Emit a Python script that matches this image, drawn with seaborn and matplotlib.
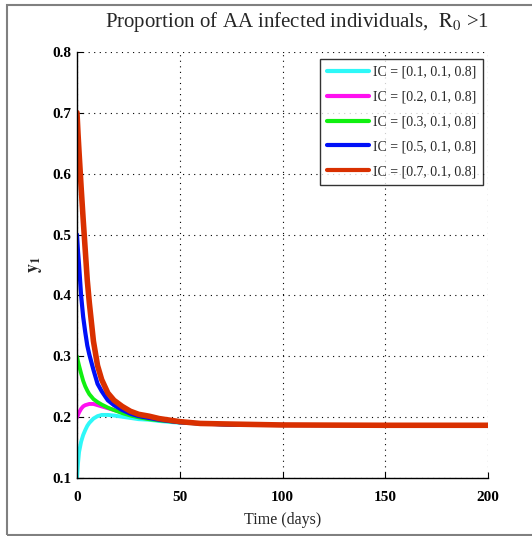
import pandas as pd
import matplotlib
matplotlib.use('Agg')
from matplotlib import pyplot as plt
from matplotlib.patches import Rectangle
import seaborn as sns

# Values
time = [0, 0.5, 1, 2, 3, 4, 5, 6, 8, 10, 12, 15, 18, 22, 26, 30, 35, 40, 50, 60, 75, 100, 150, 200]

y_01 = [0.100, 0.125, 0.143, 0.160, 0.171, 0.179, 0.186, 0.191, 0.198, 0.202, 0.204, 0.204,
        0.203, 0.201, 0.199, 0.197, 0.196, 0.194, 0.191, 0.190, 0.188, 0.1875, 0.187, 0.187]
y_02 = [0.200, 0.204, 0.208, 0.214, 0.218, 0.220, 0.221, 0.222, 0.222, 0.220, 0.218, 0.215,
        0.212, 0.208, 0.204, 0.201, 0.198, 0.196, 0.192, 0.190, 0.188, 0.1875, 0.187, 0.187]
y_03 = [0.300, 0.292, 0.285, 0.272, 0.260, 0.251, 0.244, 0.238, 0.230, 0.225, 0.221, 0.216,
        0.212, 0.207, 0.203, 0.200, 0.197, 0.195, 0.192, 0.190, 0.188, 0.1875, 0.187, 0.187]
y_05 = [0.500, 0.472, 0.450, 0.400, 0.365, 0.340, 0.318, 0.303, 0.278, 0.255, 0.243, 0.228,
        0.220, 0.212, 0.206, 0.202, 0.199, 0.196, 0.192, 0.190, 0.188, 0.1875, 0.187, 0.187]
y_07 = [0.700, 0.665, 0.635, 0.578, 0.525, 0.475, 0.425, 0.388, 0.325, 0.285, 0.262, 0.240,
        0.228, 0.218, 0.210, 0.205, 0.202, 0.198, 0.193, 0.190, 0.189, 0.1875, 0.187, 0.187]

labels = ['IC = [0.1, 0.1, 0.8]', 'IC = [0.2, 0.1, 0.8]', 'IC = [0.3, 0.1, 0.8]',
          'IC = [0.5, 0.1, 0.8]', 'IC = [0.7, 0.1, 0.8]']
series = [y_01, y_02, y_03, y_05, y_07]
colors = ['#2EF8F8', '#FF10F0', '#10F010', '#0010F8', '#D93000']
widths = [2.8, 2.8, 2.8, 3.0, 4.0]

sns.set_style('white')
plt.rcParams['font.family'] = ['Liberation Serif', 'DejaVu Serif']
plt.rcParams['mathtext.fontset'] = 'stix'

fig = plt.figure(figsize=(5.32, 5.36), dpi=100)
ax = fig.add_axes([77 / 532, 1 - 478.3 / 536, 411 / 532, 426.6 / 536])

for ys, lab, c, lw in zip(series, labels, colors, widths):
    df = pd.DataFrame({'t': time, 'y': ys})
    sns.lineplot(data=df, x='t', y='y', color=c, linewidth=lw, label=lab, ax=ax)

ax.set_xlim(0, 200)
ax.set_ylim(0.1, 0.8)
ax.set_xticks([0, 50, 100, 150, 200])
ax.set_yticks([0.1, 0.2, 0.3, 0.4, 0.5, 0.6, 0.7, 0.8])
ax.set_xticklabels(['0', '50', '100', '150', '200'])
ax.set_yticklabels(['0.1', '0.2', '0.3', '0.4', '0.5', '0.6', '0.7', '0.8'])
ax.grid(True, color='black', linestyle=(0, (1, 4)), linewidth=0.8)
ax.tick_params(direction='in', length=4, width=0.8, colors='black',
               labelsize=11, bottom=True, left=True)
ax.tick_params(axis='x', pad=9)
ax.tick_params(axis='y', pad=4)
for lbl in ax.get_xticklabels() + ax.get_yticklabels():
    lbl.set_fontweight('bold')

for side in ['top', 'right']:
    ax.spines[side].set_visible(False)
for side in ['left', 'bottom']:
    ax.spines[side].set_color('black')
    ax.spines[side].set_linewidth(1.0)

ax.set_xlabel('Time (days)', fontsize=11.5, labelpad=6)
ax.set_ylabel(r'$\mathbf{y_1}$', fontsize=13, labelpad=6)
fig.text(297 / 532, 1 - 22 / 536, r'Proportion of AA infected individuals,  $\mathrm{R_0}$ >1',
         ha='center', va='center', fontsize=15)

leg = ax.legend(loc='upper right', bbox_to_anchor=(0.988, 0.983), borderaxespad=0,
                fontsize=10, handlelength=3.0, handletextpad=0.3, labelspacing=0.85,
                frameon=True, fancybox=False, borderpad=0.5)
leg.get_frame().set_edgecolor('black')
leg.get_frame().set_linewidth(1.0)
for h in leg.get_lines():
    h.set_linewidth(3)

# grey frame around the picture
fig.patches.append(Rectangle((7 / 532, 1 - 535 / 536), 1.1, 530 / 536, transform=fig.transFigure,
                             fill=False, edgecolor='#808080', linewidth=1.5, clip_on=False))

fig.savefig('out.png', dpi=100)
